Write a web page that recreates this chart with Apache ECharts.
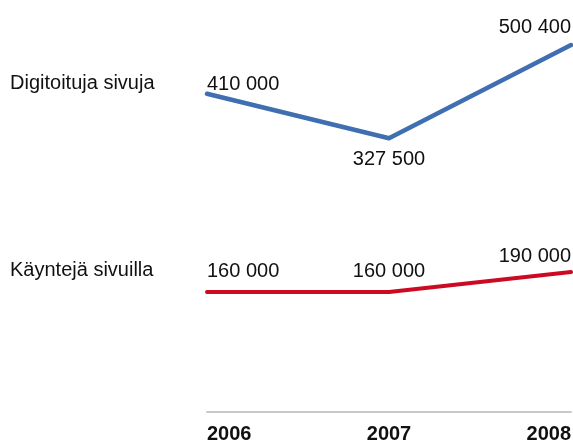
<!DOCTYPE html>
<html>
<head>
<meta charset="utf-8">
<script src="https://cdn.jsdelivr.net/npm/echarts@6/dist/echarts.min.js"></script>
<style>
  html, body { margin: 0; padding: 0; background: #fff; }
  #chart { width: 573px; height: 441px; }
</style>
</head>
<body>
<div id="chart"></div>
<script>
const years = ['2006', '2007', '2008'];
const seriesNames = ['Digitoituja sivuja', 'Käyntejä sivuilla'];
const digitized = [410000, 327500, 500400];
const visits = [160000, 160000, 190000];

const fmt = v => String(v).replace(/\B(?=(\d{3})+(?!\d))/g, ' ');
const FONT = 'Liberation Sans, Arial, sans-serif';

function labelled(values, cfgs) {
  return values.map((v, i) => ({
    value: v,
    label: Object.assign({
      show: true,
      formatter: fmt(v),
      fontFamily: FONT,
      fontSize: 20,
      color: '#111'
    }, cfgs[i])
  }));
}

const chart = echarts.init(document.getElementById('chart'), null, { renderer: 'canvas' });
chart.setOption({
  animation: false,
  grid: { left: 207, right: 2, top: 0, bottom: 29, containLabel: false, outerBoundsMode: 'none' },
  xAxis: {
    type: 'category',
    data: years,
    boundaryGap: false,
    axisLine: { show: true, onZero: false, lineStyle: { color: '#c6c9cc', width: 2 } },
    axisTick: { show: false },
    splitLine: { show: false },
    axisLabel: {
      fontFamily: FONT, fontSize: 20, fontWeight: 'bold', color: '#111',
      margin: 12, alignMinLabel: 'left', alignMaxLabel: 'right'
    }
  },
  yAxis: [
    { type: 'value', min: -180000, max: 583800, show: false, splitLine: { show: false } },
    { type: 'value', min: -20000, max: 598000, show: false, splitLine: { show: false } }
  ],
  graphic: [
    { type: 'text', left: 10, top: 73, style: { text: seriesNames[0], font: '20px ' + FONT, fill: '#111' } },
    { type: 'text', left: 10, top: 260, style: { text: seriesNames[1], font: '20px ' + FONT, fill: '#111' } }
  ],
  series: [
    {
      name: seriesNames[0],
      type: 'line',
      yAxisIndex: 0,
      symbol: 'circle',
      symbolSize: 1,
      showSymbol: true,
      itemStyle: { color: 'rgba(0,0,0,0)' },
      lineStyle: { color: '#3f6eb1', width: 4.5, cap: 'round', join: 'round' },
      data: labelled(digitized, [
        { position: 'top', align: 'left', distance: -1 },
        { position: 'bottom', align: 'center', distance: 11 },
        { position: 'top', align: 'right', distance: 7 }
      ])
    },
    {
      name: seriesNames[1],
      type: 'line',
      yAxisIndex: 1,
      symbol: 'circle',
      symbolSize: 1,
      showSymbol: true,
      itemStyle: { color: 'rgba(0,0,0,0)' },
      lineStyle: { color: '#cc0a22', width: 4, cap: 'round', join: 'round' },
      data: labelled(visits, [
        { position: 'top', align: 'left', distance: 10 },
        { position: 'top', align: 'center', distance: 10 },
        { position: 'top', align: 'right', distance: 5 }
      ])
    }
  ]
});
</script>
</body>
</html>
